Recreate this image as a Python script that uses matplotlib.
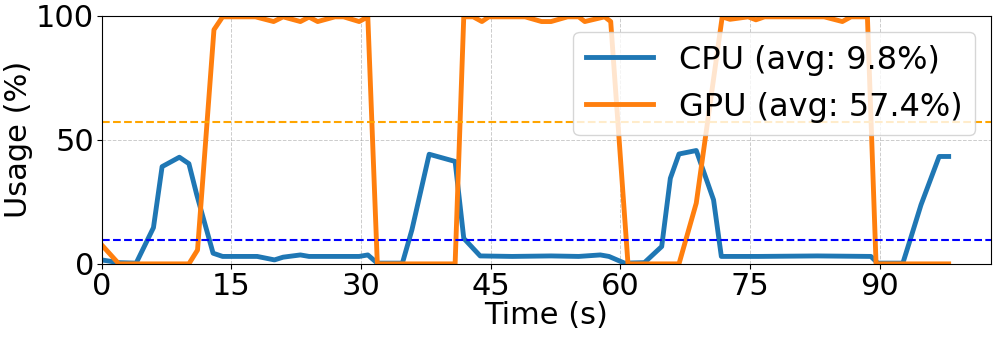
import matplotlib
matplotlib.use("Agg")
from matplotlib import pyplot as plt

# values (time in s, usage in %)
cpu_time = [0, 2, 4, 6, 7, 9, 10.1, 11, 12.9, 14, 18, 20, 21, 23, 24, 29.8, 30.8, 31.9,
            34.8, 35.9, 37.9, 40.9, 41.9, 43.8, 47.5, 52, 55.2, 57.7, 58.7, 60.5, 62.8,
            64.8, 65.8, 66.8, 68.8, 70.8, 71.7, 76, 82.8, 89, 89.8, 92.7, 93.6, 94.8, 96.9, 98]
cpu_usage = [1.6, 0.5, 0.3, 14.6, 39.2, 43, 40.4, 28, 4.3, 3, 3, 1.6, 2.7, 3.6, 3, 3, 3.6, 0.3,
             0.3, 13.7, 44.2, 41.3, 10.3, 3.2, 3, 3.2, 3, 3.6, 3, 0.3, 0.5,
             7, 34.5, 44.3, 45.7, 25.8, 3, 3, 3.2, 3, 0.3, 0.3, 10.3, 23.8, 43.3, 43.3]

gpu_time = [0, 2, 10.1, 11.1, 13, 14, 17.8, 19.9, 21, 23, 24, 25, 27, 28, 29.8, 30.8, 31.9,
            40.9, 41.9, 43, 44, 44.8, 49, 50.9, 52, 53.9, 55.2, 55.9, 58.2, 58.9, 60.9,
            66.8, 68.8, 71.8, 72.7, 74.8, 75.7, 76.7, 83.6, 85.7, 86.7, 88.6, 89.6, 98]
gpu_usage = [7.7, 0, 0, 5.6, 94.4, 99.6, 99.6, 97.7, 99.6, 97.7, 99.5, 97.7, 99.6, 99.6, 97.7, 99.6, 0,
             0, 99.6, 99.6, 97.7, 99.6, 99.6, 97.7, 97.7, 99.6, 99.6, 97.7, 99.6, 97.7, 0,
             0, 24.5, 99.6, 98.6, 99.6, 98.4, 99.6, 99.6, 97.7, 99.6, 99.6, 0, 0]

cpu_avg = 9.8
gpu_avg = 57.4

plt.rcParams['font.size'] = 22

fig = plt.figure(figsize=(9.96, 3.37), dpi=100)
ax = fig.add_subplot(111)
fig.subplots_adjust(left=0.102, right=0.995, top=0.953, bottom=0.217)

ax.plot(cpu_time, cpu_usage, color='#1f77b4', linewidth=3.5, label='CPU (avg: %.1f%%)' % cpu_avg)
ax.plot(gpu_time, gpu_usage, color='#ff7f0e', linewidth=3.5, label='GPU (avg: %.1f%%)' % gpu_avg)
ax.axhline(cpu_avg, color='blue', linestyle='--', linewidth=1.5)
ax.axhline(gpu_avg, color='orange', linestyle='--', linewidth=1.5)

ax.set_xlim(left=0)
ax.set_ylim(0, 100)
ax.set_xticks([0, 15, 30, 45, 60, 75, 90])
ax.set_yticks([0, 50, 100])
ax.set_xlabel('Time (s)', labelpad=0)
ax.set_ylabel('Usage (%)', labelpad=2)
ax.tick_params(labelsize=22, length=3.5, pad=2)
ax.grid(True, linestyle='--', color='gray', alpha=0.4, linewidth=0.7)
ax.legend(loc='upper right', fontsize=23, handlelength=2.1)

fig.savefig('out.png', dpi=100)
